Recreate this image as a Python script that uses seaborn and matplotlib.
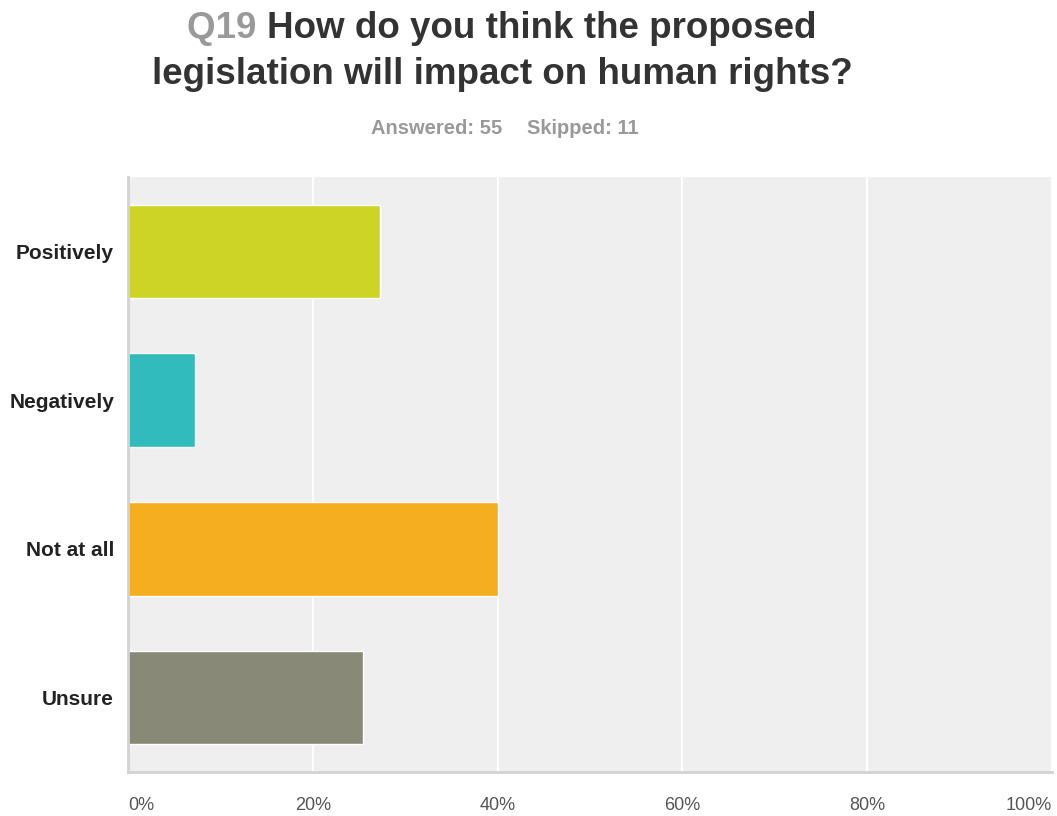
import matplotlib
matplotlib.use("Agg")
import matplotlib.pyplot as plt
import seaborn as sns
import pandas as pd

# Survey responses for Q19 (share of 55 respondents)
categories = ["Positively", "Negatively", "Not at all", "Unsure"]
percent = [27.27, 7.27, 40.00, 25.45]
bar_colors = ["#cdd425", "#31bbbd", "#f5ae1f", "#888977"]
x_ticks = [0, 20, 40, 60, 80, 100]
x_tick_labels = ["0%", "20%", "40%", "60%", "80%", "100%"]

question_id = "Q19"
question_text = ["How do you think the proposed",
                 "legislation will impact on human rights?"]
answered = 55
skipped = 11

df = pd.DataFrame({"category": categories, "percent": percent})

sns.set_theme(style="white")
plt.rcParams["font.family"] = ["Liberation Sans", "DejaVu Sans"]

fig = plt.figure(figsize=(10.57, 8.16), dpi=100)
ax = fig.add_axes([0.1211, 0.0539, 0.8742, 0.7292])
ax.set_facecolor("#efefef")

sns.barplot(data=df, x="percent", y="category", hue="category",
            palette=bar_colors, order=categories, hue_order=categories,
            width=0.63, saturation=1, legend=False, ax=ax)

ax.set_xlim(0, 100)
ax.set_ylim(3.5, -0.5)
ax.set_xticks(x_ticks)
ax.set_xticklabels(x_tick_labels, fontsize=13, color="#555555")
for lbl, ha in zip(ax.get_xticklabels(), ["left", "center", "center", "center", "center", "right"]):
    lbl.set_horizontalalignment(ha)
ax.set_yticks(range(len(categories)))
ax.set_yticklabels(categories, fontsize=15, fontweight="bold", color="#222222")
ax.tick_params(axis="x", length=0, pad=18)
ax.tick_params(axis="y", length=0, pad=10)
ax.set_xlabel("")
ax.set_ylabel("")

ax.grid(axis="x", color="white", linewidth=1.6)
ax.set_axisbelow(True)
for side in ["top", "right"]:
    ax.spines[side].set_visible(False)
for side in ["left", "bottom"]:
    ax.spines[side].set_visible(True)
    ax.spines[side].set_color("#d2d2d2")
    ax.spines[side].set_linewidth(2)

# Title: grey question number followed by the dark question text
fig.canvas.draw()
renderer = fig.canvas.get_renderer()
title_size = 26.5
q_txt = fig.text(0, 0, question_id + " ", fontsize=title_size, fontweight="bold",
                 color="#999999", va="baseline", ha="left")
r_txt = fig.text(0, 0, question_text[0], fontsize=title_size, fontweight="bold",
                 color="#333333", va="baseline", ha="left")
wq = q_txt.get_window_extent(renderer).width
wr = r_txt.get_window_extent(renderer).width
W = fig.get_figwidth() * fig.dpi
H = fig.get_figheight() * fig.dpi
cx = 502
y1 = 1 - 38 / H
start = cx - (wq + wr) / 2
q_txt.set_position((start / W, y1))
r_txt.set_position(((start + wq) / W, y1))
fig.text(cx / W, 1 - 84 / H, question_text[1], fontsize=title_size,
         fontweight="bold", color="#333333", va="baseline", ha="center")

fig.text(502 / W, 1 - 128 / H, f"Answered: {answered}", fontsize=14.5,
         fontweight="bold", color="#999999", va="center", ha="right")
fig.text(527 / W, 1 - 128 / H, f"Skipped: {skipped}", fontsize=14.5,
         fontweight="bold", color="#999999", va="center", ha="left")

fig.savefig("out.png", dpi=100)
